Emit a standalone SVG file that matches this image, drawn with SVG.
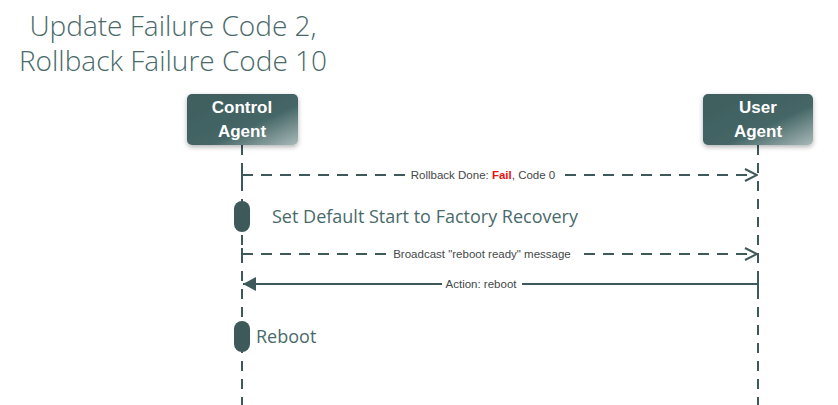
<svg xmlns="http://www.w3.org/2000/svg" width="838" height="405" viewBox="0 0 838 405">
<defs>
<linearGradient id="boxg" x1="0" y1="0" x2="1" y2="1">
<stop offset="0" stop-color="#3e5e5e"/>
<stop offset="0.6" stop-color="#456666"/>
<stop offset="1" stop-color="#a9b9b9"/>
</linearGradient>
<filter id="sh" x="-20%" y="-20%" width="140%" height="150%">
<feDropShadow dx="0" dy="2" stdDeviation="2.5" flood-color="#000" flood-opacity="0.3"/>
</filter>
<marker id="open" markerWidth="14" markerHeight="14" refX="13" refY="7" orient="auto" markerUnits="userSpaceOnUse">
<path d="M1,1 L13,7 L1,13" fill="none" stroke="#3d5959" stroke-width="2"/>
</marker>
<marker id="fill" markerWidth="14" markerHeight="14" refX="13" refY="7" orient="auto" markerUnits="userSpaceOnUse">
<path d="M0,0 L13,7 L0,14 z" fill="#3d5959"/>
</marker>
</defs>
<style>
.title{font-family:"Open Sans","Liberation Sans",sans-serif;font-size:28px;fill:#4a6a6a;font-weight:300}
.box{fill:url(#boxg);filter:url(#sh)}
.bt{font-family:"Liberation Sans",Arial,sans-serif;font-size:17px;font-weight:bold;fill:#ffffff;text-anchor:middle}
.life{stroke:#3d5959;stroke-width:2;stroke-dasharray:10,8;fill:none}
.msg{stroke:#3d5959;stroke-width:2;fill:none}
.dash{stroke-dasharray:11,8}
.lbl{font-family:"Liberation Sans",Arial,sans-serif;font-size:11.5px;fill:#444848;text-anchor:middle}
.act{fill:#3d5959}
.note{font-family:"Open Sans","Liberation Sans",sans-serif;font-size:18px;fill:#4a6a6a}
</style>
<text class="title" x="173" y="36" text-anchor="middle">Update Failure Code 2,</text>
<text class="title" x="173" y="71" text-anchor="middle">Rollback Failure Code 10</text>
<g id="connectors">
<line class="life" x1="242" y1="145" x2="242" y2="405"/>
<line class="life" x1="758" y1="145" x2="758" y2="405"/>
<line class="msg" x1="242" y1="169" x2="242" y2="181"/>
<line class="msg dash" x1="242" y1="175" x2="757" y2="175" marker-end="url(#open)"/>
<rect x="408" y="168" width="150" height="14" fill="#fff"/>
<text class="lbl" x="483" y="179"><tspan>Rollback Done: </tspan><tspan fill="#ee1111" font-weight="bold">Fail</tspan><tspan>, Code 0</tspan></text>
<line class="msg" x1="242" y1="248" x2="242" y2="260"/>
<line class="msg dash" x1="242" y1="254" x2="757" y2="254" marker-end="url(#open)"/>
<rect x="389" y="247" width="190" height="14" fill="#fff"/>
<text class="lbl" x="482" y="258">Broadcast "reboot ready" message</text>
<line class="msg" x1="758" y1="276" x2="758" y2="290"/>
<line class="msg" x1="758" y1="284" x2="243" y2="284" marker-end="url(#fill)"/>
<rect x="442" y="277" width="80" height="14" fill="#fff"/>
<text class="lbl" x="481" y="288">Action: reboot</text>
</g>
<g id="control-agent">
<rect class="box" x="187" y="94" width="111" height="51" rx="5"/>
<text class="bt" x="242" y="113">Control</text>
<text class="bt" x="242" y="137">Agent</text>
</g>
<g id="user-agent">
<rect class="box" x="703" y="94" width="110" height="51" rx="5"/>
<text class="bt" x="758" y="113">User</text>
<text class="bt" x="758" y="137">Agent</text>
</g>
<g id="activation-1">
<rect class="act" x="234" y="201" width="16" height="31" rx="8"/>
<text class="note" x="272" y="223">Set Default Start to Factory Recovery</text>
</g>
<g id="activation-2">
<rect class="act" x="234" y="321" width="16" height="31" rx="8"/>
<text class="note" x="256" y="343">Reboot</text>
</g>
</svg>
